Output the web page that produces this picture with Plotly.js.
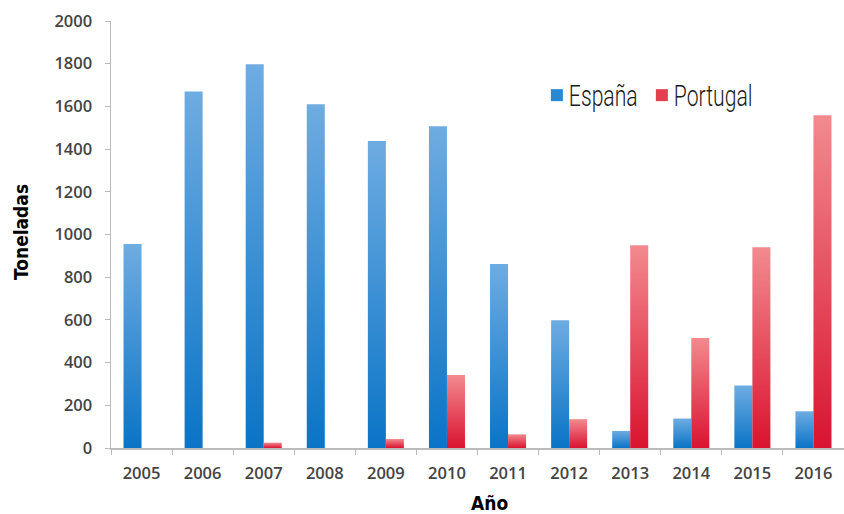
<!DOCTYPE html>
<html>
<head>
<meta charset="utf-8">
<script src="https://cdn.plot.ly/plotly-3.0.1.min.js"></script>
<style>html,body{margin:0;padding:0;background:#fff;}#chart{width:844px;height:514px;}</style>
</head>
<body>
<div id="chart"></div>
<script>
const years = ['2005','2006','2007','2008','2009','2010','2011','2012','2013','2014','2015','2016'];
const espana = [955, 1670, 1798, 1610, 1438, 1507, 862, 598, 80, 138, 293, 172];
const portugal = [0, 0, 25, 0, 42, 342, 64, 135, 950, 515, 940, 1558];
const yTicks = [0, 200, 400, 600, 800, 1000, 1200, 1400, 1600, 1800, 2000];

const traces = [
  {type:'bar', name:'España', x:years, y:espana, marker:{color:'#2a87d2'}},
  {type:'bar', name:'Portugal', x:years, y:portugal, marker:{color:'#e2404f'}}
];
const tickFont = {family:'Open Sans, DejaVu Sans, sans-serif', size:16.5, color:'#444', weight:600};
const titleFont = {family:'DejaVu Sans Condensed, Roboto, sans-serif', size:19, color:'#000', weight:700};
const layout = {
  width:844, height:514,
  margin:{l:111, r:0, t:21, b:66},
  paper_bgcolor:'#fff', plot_bgcolor:'#fff',
  barmode:'group', bargap:0.41, bargroupgap:0,
  showlegend:true,
  legend:{orientation:'h', x:0.581, y:0.826, xanchor:'left', yanchor:'middle',
    font:{family:'Roboto, sans-serif', size:29, color:'#1a1a1a', weight:300},
    entrywidthmode:'pixels', entrywidth:60,
    tracegroupgap:0, bgcolor:'rgba(0,0,0,0)'},
  xaxis:{type:'category', tickson:'boundaries', ticks:'outside', ticklen:5, tickcolor:'#bbb',
    showline:true, linecolor:'#bbb', linewidth:1.5, showgrid:false,
    ticklabelstandoff:10,
    tickfont:tickFont},
  yaxis:{range:[0,2000], tickvals:yTicks, ticks:'outside', ticklen:5, tickcolor:'#bbb',
    showline:true, linecolor:'#bbb', linewidth:1.5, showgrid:false, zeroline:false,
    ticklabelstandoff:9,
    tickfont:tickFont},
  annotations:[
    {text:'Año', xref:'paper', yref:'paper', x:0.516, y:-0.129, xanchor:'center', yanchor:'middle',
      showarrow:false, font:titleFont},
    {text:'Toneladas', xref:'paper', yref:'paper', x:-0.1228, y:0.506, xanchor:'center', yanchor:'middle',
      textangle:-90, showarrow:false, font:titleFont}
  ]
};
Plotly.newPlot('chart', traces, layout, {displayModeBar:false, staticPlot:true}).then(function(gd){
  const svgNS = 'http://www.w3.org/2000/svg';
  const defs = gd.querySelector('.main-svg defs');
  function grad(id, top, bottom){
    const g = document.createElementNS(svgNS, 'linearGradient');
    g.setAttribute('id', id); g.setAttribute('x1','0'); g.setAttribute('y1','0');
    g.setAttribute('x2','0'); g.setAttribute('y2','1');
    [[0, top],[1, bottom]].forEach(function(s){
      const st = document.createElementNS(svgNS, 'stop');
      st.setAttribute('offset', s[0]); st.setAttribute('stop-color', s[1]);
      g.appendChild(st);
    });
    defs.appendChild(g);
  }
  grad('gEsp', '#6eace2', '#0a74c6');
  grad('gPor', '#f28a8f', '#da1330');
  const ids = ['gEsp','gPor'];
  gd.querySelectorAll('.barlayer .trace.bars').forEach(function(tr, i){
    tr.querySelectorAll('path').forEach(function(p){ p.style.fill = 'url(#' + ids[i] + ')'; });
  });
  gd.querySelectorAll('.legend, .legend *').forEach(function(el){
    if (el.hasAttribute('clip-path')) el.removeAttribute('clip-path');
  });
  gd.querySelectorAll('.legendtext').forEach(function(t){
    t.style.transformBox = 'fill-box';
    t.style.transformOrigin = 'left center';
    t.style.transform = 'translateX(-8px) scaleX(0.73)';
  });
});
</script>
</body>
</html>
